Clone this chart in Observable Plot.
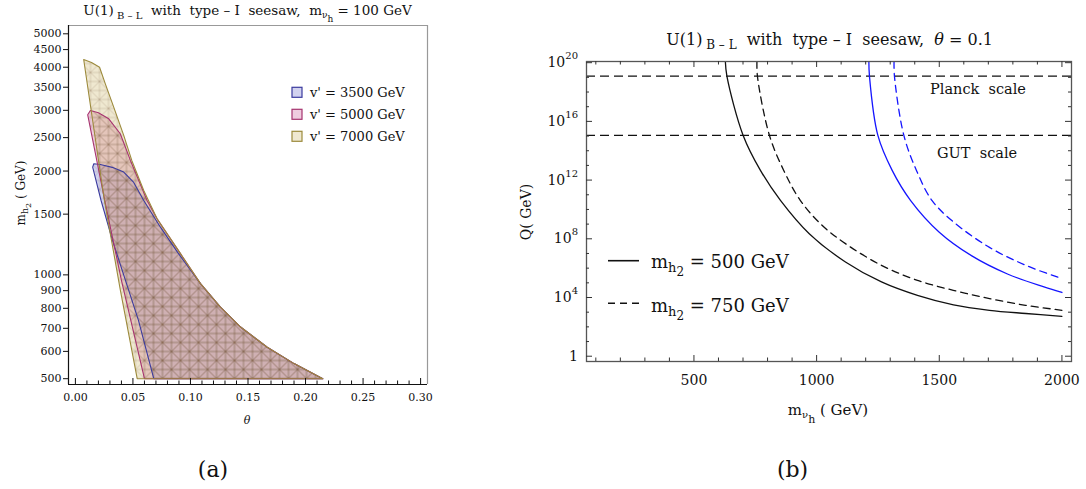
<!DOCTYPE html>
<html><head><meta charset="utf-8">
<script src="https://cdn.jsdelivr.net/npm/d3@7"></script>
<script src="https://cdn.jsdelivr.net/npm/@observablehq/plot@0.6"></script>
<style>
body{margin:0;background:#fff;}
#fig{position:relative;width:1086px;height:489px;background:#fff;overflow:hidden}
#fig svg{position:absolute;top:0;overflow:visible}
</style></head><body><div id="fig"></div>
<script>
// ---------------- data: panel (a) ----------------
const thetaTicks = [0, 0.05, 0.10, 0.15, 0.20, 0.25, 0.30];
const thetaMinor = [0.01,0.02,0.03,0.04,0.06,0.07,0.08,0.09,0.11,0.12,0.13,0.14,0.16,0.17,0.18,0.19,0.21,0.22,0.23,0.24,0.26,0.27,0.28,0.29];
const mh2Ticks = [500,600,700,800,900,1000,1500,2000,2500,3000,3500,4000,4500,5000];
const vprimeLabels = ["v' = 3500 GeV", "v' = 5000 GeV", "v' = 7000 GeV"];
// allowed regions [theta, m_h2 (GeV)], traced round the boundary
const region3500 = [[0.015,2053],[0.016,2100],[0.0217,2090],[0.032,2050],[0.042,1986],[0.0507,1854],[0.0594,1643],[0.0739,1375],[0.089,1160],[0.1087,943],[0.126,806],[0.1435,706],[0.1667,617],[0.19,553],[0.215,500],[0.0681,500],[0.0548,738],[0.0435,964],[0.0322,1259],[0.0223,1643]];
const region5000 = [[0.0107,2912],[0.013,2997],[0.02,2950],[0.029,2835],[0.039,2566],[0.0478,2147],[0.0623,1643],[0.071,1455],[0.0913,1152],[0.1087,943],[0.126,806],[0.1435,706],[0.1667,617],[0.19,553],[0.215,500],[0.060,500],[0.040,964],[0.0255,1643]];
const region7000 = [[0.0072,4212],[0.014,4130],[0.021,4000],[0.026,3580],[0.0333,3064],[0.042,2537],[0.049,2147],[0.0594,1757],[0.071,1455],[0.0913,1152],[0.1087,943],[0.126,806],[0.1435,706],[0.1667,617],[0.19,553],[0.215,500],[0.0537,500],[0.0391,902],[0.0252,1643]];

// ---------------- data: panel (b) ----------------
const mnuTicks = [500, 1000, 1500, 2000];
const mnuMinor = [100,200,300,400,600,700,800,900,1100,1200,1300,1400,1600,1700,1800,1900];
const qTicks = [1, 1e4, 1e8, 1e12, 1e16, 1e20];
const qTickExp = ["", "4", "8", "12", "16", "20"];
const qMinor = [1e1,1e2,1e3,1e5,1e6,1e7,1e9,1e10,1e11,1e13,1e14,1e15,1e17,1e18,1e19];
const planckScale = 1.22e19;
const gutScale = 1.1e15;
// [m_nu_h (GeV), Q (GeV)]
const qBlack500 = [[628,1.2e20],[634.5,1.15e19],[700.6,1.1e15],[771,4.57e12],[852.6,4.17e10],[970,2.24e8],[1117.6,2.63e6],[1264.4,1.15e5],[1411,1.4e4],[1558,3160],[1704.6,1349],[1853,813],[2000,525]];
const qBlack750 = [[756.8,1.2e20],[758.9,1.15e19],[807.8,1.1e15],[866,4.57e12],[933.3,4.17e10],[1020,9.0e8],[1117.6,4.68e7],[1264.4,1.55e6],[1411,1.48e5],[1557,3.09e4],[1704.6,8511],[1851.4,2951],[2000,1349]];
const qBlue500 = [[1213,1.2e20],[1215.5,1.15e19],[1249.7,1.1e15],[1308,4.57e12],[1382.6,4.17e10],[1500,2.8e8],[1631,7.1e6],[1778,4.0e5],[1926.8,5.25e4],[2000,2.2e4]];
const qBlue750 = [[1315.7,1.2e20],[1317.4,1.15e19],[1355.7,1.1e15],[1407,4.57e12],[1470,4.17e10],[1558,1.4e9],[1704.6,2.6e7],[1853,1.55e6],[2000,1.95e5]];

const F = '"DejaVu Serif", serif';
const fig = d3.select("#fig");

function rich(sel, x, y, size, segs, anchor) {
  const t = sel.append("text").attr("x", x).attr("y", y)
    .attr("font-family", F).attr("font-size", size)
    .attr("text-anchor", anchor || "start").attr("fill", "#111")
    .style("white-space", "pre");
  let cur = 0;
  for (const s of segs) {
    const sh = s.shift || 0;
    const ts = t.append("tspan").attr("dy", sh - cur).text(s.t);
    if (s.size) ts.attr("font-size", s.size);
    if (s.italic) ts.attr("font-style", "italic");
    cur = sh;
  }
  return t;
}

// ---------------- panel (a) ----------------
const closed = a => a.concat([a[0]]).map(([theta, m]) => ({theta, m}));
const regFill = ["rgb(115,115,205)", "rgb(205,95,155)", "rgb(205,185,110)"];
const regStroke = ["#3b3b9e", "#a6336f", "#9c8a3c"];
const regions = [region3500, region5000, region7000].map(closed);

function meshDefs() {
  const defs = d3.create("svg:defs");
  const p = defs.append("pattern").attr("id", "mesh").attr("patternUnits", "userSpaceOnUse")
    .attr("width", 18).attr("height", 18);
  p.append("path").attr("d", "M0,0H18V18H0Z M0,0L18,18 M18,0L0,18 M9,0V18 M0,9H18")
    .attr("fill", "none").attr("stroke", "rgba(120,85,60,0.28)").attr("stroke-width", 0.8);
  return defs.node();
}

const Wl = 543, Hl = 489, mlL = 68, mrL = 116, mtL = 25, mbL = 105;
const innerHL = Hl - mtL - mbL, innerWL = Wl - mlL - mrL;
const left = Plot.plot({
  width: Wl, height: Hl, marginLeft: mlL, marginRight: mrL, marginTop: mtL, marginBottom: mbL,
  style: {fontFamily: F, fontSize: "11px", color: "#111", background: "transparent", overflow: "visible"},
  x: {domain: [-0.006, 0.306], axis: null},
  y: {type: "log", domain: [481, 5285], axis: null},
  marks: [
    meshDefs,
    ...regions.map((r, i) => Plot.line(r, {x: "theta", y: "m", fill: regFill[i], fillOpacity: 0.32, stroke: "none", curve: "linear"})),
    ...regions.map(r => Plot.line(r, {x: "theta", y: "m", fill: "url(#mesh)", stroke: "none", curve: "linear"})),
    ...regions.map((r, i) => Plot.line(r, {x: "theta", y: "m", stroke: regStroke[i], strokeWidth: 1.1, curve: "linear"})),
    Plot.ruleX([0.306], {stroke: "#999", strokeWidth: 1.2}),
    Plot.ruleY([5285], {stroke: "#999", strokeWidth: 1.2}),
    Plot.ruleX([-0.006], {stroke: "#111", strokeWidth: 1.2}),
    Plot.ruleY([481], {stroke: "#111", strokeWidth: 1.2}),
    Plot.ruleX(thetaTicks, {stroke: "#111", insetTop: innerHL - 6}),
    Plot.ruleX(thetaMinor, {stroke: "#111", insetTop: innerHL - 3.5}),
    Plot.axisX(thetaTicks, {tickSize: 0, tickPadding: 9, tickFormat: d3.format(".2f"), label: null, fontSize: 11}),
    Plot.axisY(mh2Ticks, {tickSize: 5, tickPadding: 2, tickFormat: d => String(d), label: null, fontSize: 11, stroke: "#111"})
  ]
});
left.style.left = "0px";
fig.node().appendChild(left);
const ls = d3.select(left);
rich(ls, 247.5, 15, 13.5, [{t: "U(1)"}, {t: " B – L", shift: 3.5, size: 10}, {t: "  with  type – I  seesaw,  m"}, {t: "ν", shift: 3, size: 9}, {t: "h", shift: 6.5, size: 9}, {t: " = 100 GeV"}], "middle");
rich(ls, 247, 424, 11, [{t: "θ", italic: true}], "middle");
const gy = ls.append("g").attr("transform", "translate(25,193) rotate(-90)");
rich(gy, 0, 0, 12, [{t: "m"}, {t: "h", shift: 3, size: 9.5}, {t: "2", shift: 6, size: 8}, {t: " ( GeV)"}], "middle");
vprimeLabels.forEach((lab, i) => {
  const y0 = 87.3 + i * 22;
  ls.append("rect").attr("x", 292).attr("y", y0).attr("width", 10).attr("height", 10)
    .attr("fill", regFill[i]).attr("fill-opacity", 0.32).attr("stroke", regStroke[i]).attr("stroke-width", 1.2);
  rich(ls, 310, y0 + 10, 13, [{t: lab}]);
});
rich(ls, 213, 477, 22, [{t: "(a)"}], "middle");

// ---------------- panel (b) ----------------
const Wr = 543, Hr = 489, mlR = 43, mrR = 15, mtR = 61, mbR = 128;
const innerHR = Hr - mtR - mbR, innerWR = Wr - mlR - mrR;
const pts = a => a.map(([x, q]) => ({x, q}));
const right = Plot.plot({
  width: Wr, height: Hr, marginLeft: mlR, marginRight: mrR, marginTop: mtR, marginBottom: mbR,
  style: {fontFamily: F, fontSize: "14px", color: "#111", background: "transparent", overflow: "visible"},
  x: {domain: [62, 2039], axis: null},
  y: {type: "log", domain: [Math.pow(10, -0.36), Math.pow(10, 20.08)], axis: null},
  marks: [
    Plot.ruleY([planckScale, gutScale], {stroke: "#111", strokeWidth: 1.3, strokeDasharray: "9,5"}),
    Plot.line(pts(qBlack500), {x: "x", y: "q", stroke: "#111", strokeWidth: 1.3, curve: "catmull-rom", clip: true}),
    Plot.line(pts(qBlack750), {x: "x", y: "q", stroke: "#111", strokeWidth: 1.3, strokeDasharray: "7,5", curve: "catmull-rom", clip: true}),
    Plot.line(pts(qBlue500), {x: "x", y: "q", stroke: "#1515ff", strokeWidth: 1.3, curve: "catmull-rom", clip: true}),
    Plot.line(pts(qBlue750), {x: "x", y: "q", stroke: "#1515ff", strokeWidth: 1.3, strokeDasharray: "7,5", curve: "catmull-rom", clip: true}),
    Plot.frame({stroke: "#555", strokeWidth: 1.3}),
    Plot.ruleX(mnuTicks, {stroke: "#333", insetTop: innerHR - 6}),
    Plot.ruleX(mnuMinor, {stroke: "#333", insetTop: innerHR - 3.5}),
    Plot.ruleX(mnuTicks, {stroke: "#333", insetBottom: innerHR - 6}),
    Plot.ruleX(mnuMinor, {stroke: "#333", insetBottom: innerHR - 3.5}),
    Plot.ruleY(qTicks, {stroke: "#333", insetRight: innerWR - 6}),
    Plot.ruleY(qMinor, {stroke: "#333", insetRight: innerWR - 3}),
    Plot.ruleY(qTicks, {stroke: "#333", insetLeft: innerWR - 6}),
    Plot.ruleY(qMinor, {stroke: "#333", insetLeft: innerWR - 3}),
    Plot.axisX(mnuTicks, {tickSize: 0, tickPadding: 14, label: null, fontSize: 14, tickFormat: d => String(d)})
  ]
});
right.style.left = "543px";
fig.node().appendChild(right);
const rs = d3.select(right);
const ys = right.scale("y");
qTicks.forEach((q, i) => {
  const yy = ys.apply(q);
  if (qTickExp[i] === "") rich(rs, 35, yy + 5, 14, [{t: "1"}], "end");
  else rich(rs, 35, yy + 5, 14, [{t: "10"}, {t: qTickExp[i], shift: -8, size: 10}], "end");
});
rich(rs, 286.6, 45, 16, [{t: "U(1)"}, {t: " B – L", shift: 4, size: 12}, {t: "  with  type – I  seesaw,  "}, {t: "θ", italic: true}, {t: " = 0.1"}], "middle");
rich(rs, 387, 93.5, 14.5, [{t: "Planck  scale"}]);
rich(rs, 394, 157.5, 14.5, [{t: "GUT  scale"}]);
rich(rs, 285, 415, 15, [{t: "m"}, {t: "ν", shift: 3, size: 10}, {t: "h", shift: 8, size: 11}, {t: " ( GeV)"}], "middle");
const gq = rs.append("g").attr("transform", "translate(-12,212) rotate(-90)");
rich(gq, 0, 0, 14, [{t: "Q( GeV)"}], "middle");
// legend
rs.append("line").attr("x1", 65).attr("x2", 96).attr("y1", 260.7).attr("y2", 260.7).attr("stroke", "#111").attr("stroke-width", 1.6);
rs.append("line").attr("x1", 65).attr("x2", 96).attr("y1", 303.3).attr("y2", 303.3).attr("stroke", "#111").attr("stroke-width", 1.6).attr("stroke-dasharray", "7,5");
rich(rs, 108, 268.3, 18, [{t: "m"}, {t: "h", shift: 4, size: 13}, {t: "2", shift: 8, size: 12}, {t: " = 500 GeV"}]);
rich(rs, 108, 311.7, 18, [{t: "m"}, {t: "h", shift: 4, size: 13}, {t: "2", shift: 8, size: 12}, {t: " = 750 GeV"}]);
rich(rs, 249.5, 477, 22, [{t: "(b)"}], "middle");
</script></body></html>
